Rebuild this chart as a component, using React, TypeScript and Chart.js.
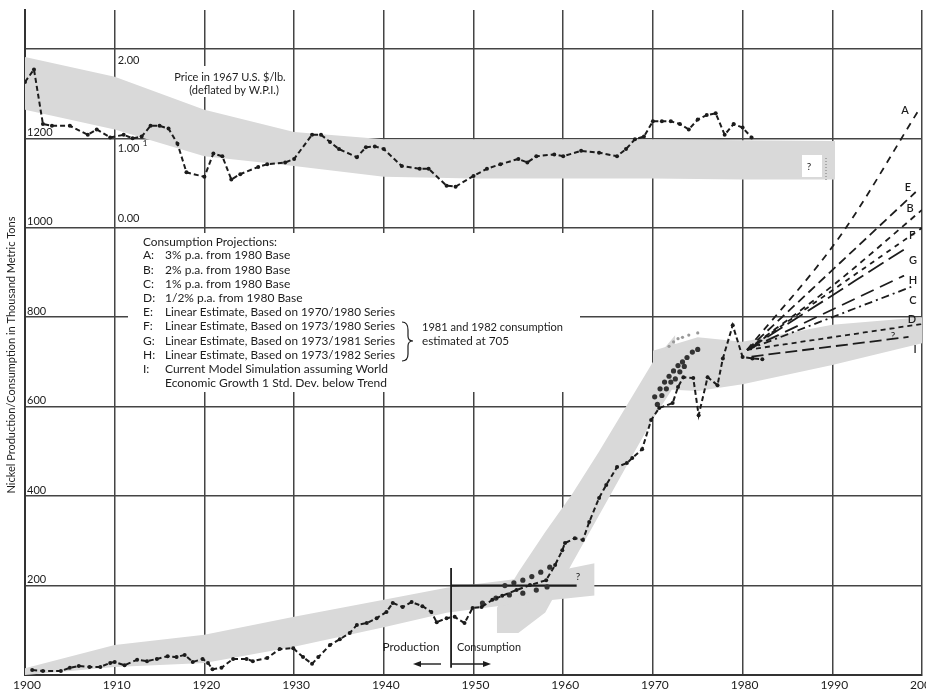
import React, { useEffect, useRef } from "react";
import { Chart, registerables } from "chart.js";
Chart.register(...registerables);

// ---------------- DATA ----------------
const xTickLabels = ["1900", "1910", "1920", "1930", "1940", "1950", "1960", "1970", "1980", "1990", "2000"];
const yTickLabels = [200, 400, 600, 800, 1000, 1200];
const priceTickLabels = ["0.00", "1.00", "2.00"];

// Production (to 1947) / consumption (after) in thousand metric tons
const prodYears = [1900.8, 1902, 1904, 1905, 1906, 1907.2, 1908.4, 1909.5, 1910, 1911.1, 1912.5, 1913.6, 1914.7, 1915.9, 1916.9, 1917.8, 1918.7, 1919.8, 1920.4, 1920.9, 1921.9, 1923.2, 1924.7, 1925.4, 1927, 1928.4, 1929.9, 1931, 1932, 1932.7, 1934, 1935.1, 1936.2, 1937, 1938.1, 1939.2, 1940.3, 1941, 1942.1, 1943.1, 1944.3, 1945.3, 1945.9, 1947, 1947.9, 1949, 1949.9, 1950.9, 1952.1, 1953.2, 1954.8, 1956.3, 1958.1, 1959.1, 1959.9, 1960.2, 1961.3, 1962.2, 1962.9, 1964, 1964.8, 1966, 1967.1, 1967.7, 1968.8, 1969.8, 1970.7, 1972.2, 1972.8, 1973.4, 1974.5, 1975.1, 1976.1, 1977.2, 1977.8, 1978.9, 1980, 1981.1, 1982.2];
const prodValues = [11, 9, 9, 16, 20, 18, 18, 27, 29, 22, 34, 31, 36, 42, 40, 45, 29, 36, 27, 13, 16, 36, 36, 31, 38, 58, 60, 40, 25, 40, 67, 80, 94, 112, 116, 127, 141, 161, 152, 163, 154, 141, 118, 127, 130, 116, 150, 152, 168, 177, 190, 201, 212, 246, 279, 295, 306, 302, 342, 396, 425, 465, 474, 485, 505, 570, 597, 608, 644, 666, 664, 581, 666, 648, 708, 782, 711, 708, 706];

// Price in 1967 U.S. $/lb
const priceYears = [1900, 1901, 1902, 1903, 1905, 1907, 1908, 1909.5, 1911, 1912, 1913, 1914, 1915, 1916, 1917, 1918, 1920, 1921, 1922, 1923, 1924, 1926, 1927, 1929, 1930, 1932, 1933, 1934, 1935, 1937, 1938, 1939, 1940, 1942, 1944, 1945, 1947, 1948, 1950, 1951.5, 1953, 1955, 1956, 1957, 1959, 1960, 1962, 1964, 1966, 1967, 1968, 1969, 1970, 1971, 1972, 1973, 1974, 1975, 1976, 1977, 1978, 1979, 1980, 1981];
const priceValues = [1.63, 1.77, 1.16, 1.14, 1.14, 1.04, 1.1, 1.01, 1.04, 1.0, 1.02, 1.14, 1.14, 1.11, 0.94, 0.62, 0.57, 0.83, 0.8, 0.54, 0.6, 0.68, 0.71, 0.73, 0.77, 1.04, 1.04, 0.96, 0.88, 0.79, 0.9, 0.91, 0.88, 0.69, 0.66, 0.66, 0.47, 0.46, 0.58, 0.66, 0.71, 0.77, 0.73, 0.8, 0.82, 0.8, 0.86, 0.84, 0.8, 0.88, 0.99, 1.02, 1.19, 1.19, 1.19, 1.16, 1.1, 1.21, 1.26, 1.28, 1.04, 1.16, 1.12, 1.01];

// Consumption estimates (scattered dots)
const cloud50Years = [1951, 1952.5, 1954, 1955.5, 1957, 1958.2, 1953.5, 1954.5, 1955.5, 1956.5, 1957.5, 1958.5];
const cloud50Values = [161, 172, 179, 183, 190, 197, 200, 206, 212, 220, 230, 241];
const cloud70Years = [1970.2, 1970.8, 1971.3, 1971.8, 1972.3, 1972.8, 1973.3, 1973.8, 1974.4, 1975, 1970.5, 1971, 1971.5, 1972, 1972.5, 1973, 1973.5];
const cloud70Values = [622, 640, 655, 668, 680, 692, 700, 710, 722, 728, 605, 625, 640, 655, 662, 678, 690];
const cloud70LightYears = [1971.8, 1972.3, 1972.8, 1973.3, 1974, 1975];
const cloud70LightValues = [735, 745, 752, 755, 760, 765];

// Projections A..I (start 1980 base, end near 2000)
const projNames = ["A", "E", "B", "F", "G", "H", "C", "D", "I"];
const projYears = [
  [1980.5, 1991, 1999.6],
  [1980.5, 1999.3],
  [1980.5, 1990, 2000],
  [1980.5, 2000],
  [1980.5, 1998.5],
  [1980.5, 1998],
  [1980.5, 1998.8],
  [1980.5, 2000],
  [1981, 1998.5],
];
const projValues = [
  [727, 985, 1262],
  [727, 1080],
  [727, 870, 1040],
  [727, 1000],
  [727, 958],
  [727, 893],
  [727, 868],
  [727, 785],
  [712, 756],
];
const projDash = [[7, 6], [9, 5], [6, 5], [5, 5], [18, 6], [14, 7], [8, 4, 2, 4], [5, 4], [12, 5]];

// Shaded trend bands
const priceBandYears = [1900, 1910, 1920, 1930, 1940, 1950, 1960, 1970, 1980, 1990.3];
const priceBandUpper = [1.91, 1.69, 1.32, 1.07, 0.99, 0.99, 0.99, 0.99, 0.98, 0.97];
const priceBandLower = [1.32, 1.1, 0.8, 0.69, 0.57, 0.55, 0.55, 0.55, 0.54, 0.54];
const band1Years = [1900, 1910, 1920, 1930, 1940, 1947, 1955, 1963.5];
const band1Upper = [15, 67, 90, 130, 168, 195, 215, 250];
const band1Lower = [0, 18, 27, 63, 107, 139, 160, 178];
const band2Years = [1952.6, 1955, 1958, 1961, 1964, 1967, 1970, 1972.5];
const band2Upper = [150, 230, 320, 405, 500, 600, 700, 760];
const band2Lower = [94, 94, 140, 250, 357, 465, 572, 650];
const band3Years = [1970, 1975, 1980, 1990, 2000];
const band3Upper = [725, 755, 745, 783, 800];
const band3Lower = [640, 635, 650, 693, 742];

const legendLines = [
  ["A:", "3% p.a. from 1980 Base"],
  ["B:", "2% p.a. from 1980 Base"],
  ["C:", "1% p.a. from 1980 Base"],
  ["D:", "1/2% p.a. from 1980 Base"],
  ["E:", "Linear Estimate, Based on 1970/1980 Series"],
  ["F:", "Linear Estimate, Based on 1973/1980 Series"],
  ["G:", "Linear Estimate, Based on 1973/1981 Series"],
  ["H:", "Linear Estimate, Based on 1973/1982 Series"],
  ["I:", "Current Model Simulation assuming World"],
  ["", "Economic Growth 1 Std. Dev. below Trend"],
];

// ---------------- HELPERS ----------------
const pts = (xs: number[], ys: number[]) => xs.map((x, i) => ({ x, y: ys[i] }));
const FONT = 'Lato, "Open Sans", sans-serif';
const INK = "#1c1c1c";
const BAND = "#d9d9d9";

export default function App() {
  const ref = useRef<HTMLCanvasElement | null>(null);

  useEffect(() => {
    document.body.style.margin = "0";
    const canvas = ref.current!;
    const datasets: any[] = [];

    datasets.push({
      data: pts(prodYears, prodValues), yAxisID: "y", borderColor: INK, borderWidth: 2,
      borderDash: [5, 3], pointRadius: 2, pointBackgroundColor: INK, pointBorderWidth: 0, tension: 0,
    });
    datasets.push({
      data: pts(priceYears, priceValues), yAxisID: "yp", borderColor: INK, borderWidth: 2,
      borderDash: [5, 3], pointRadius: 2, pointBackgroundColor: INK, pointBorderWidth: 0,
    });
    projNames.forEach((n, i) => {
      datasets.push({
        data: pts(projYears[i], projValues[i]), yAxisID: "y", borderColor: INK, borderWidth: 1.8,
        borderDash: projDash[i], pointRadius: 0, cubicInterpolationMode: "monotone", tension: 0.3,
      });
    });
    datasets.push({ data: pts(cloud50Years, cloud50Values), yAxisID: "y", showLine: false, pointRadius: 2.6, pointBackgroundColor: "#333", pointBorderWidth: 0 });
    datasets.push({ data: pts(cloud70Years, cloud70Values), yAxisID: "y", showLine: false, pointRadius: 2.6, pointBackgroundColor: "#333", pointBorderWidth: 0 });
    datasets.push({ data: pts(cloud70LightYears, cloud70LightValues), yAxisID: "y", showLine: false, pointRadius: 1.6, pointBackgroundColor: "#999", pointBorderWidth: 0 });
    // divider between production and consumption, and 200 segment
    datasets.push({ data: [{ x: 1947.5, y: 16 }, { x: 1947.5, y: 239 }], yAxisID: "y", borderColor: INK, borderWidth: 1.8, pointRadius: 0 });
    datasets.push({ data: [{ x: 1947.5, y: 200 }, { x: 1961.5, y: 200 }], yAxisID: "y", borderColor: INK, borderWidth: 2.2, pointRadius: 0 });

    const band = (xs: number[], up: number[], lo: number[], axis: string) => {
      datasets.push({ data: pts(xs, up), yAxisID: axis, borderWidth: 0, pointRadius: 0, fill: false, borderColor: "rgba(0,0,0,0)" });
      datasets.push({ data: pts(xs, lo), yAxisID: axis, borderWidth: 0, pointRadius: 0, fill: "-1", backgroundColor: BAND, borderColor: "rgba(0,0,0,0)" });
    };
    band(priceBandYears, priceBandUpper, priceBandLower, "yp");
    band(band1Years, band1Upper, band1Lower, "y");
    band(band2Years, band2Upper, band2Lower, "y");
    band(band3Years, band3Upper, band3Lower, "y");

    const overlay = {
      id: "overlay",
      beforeDatasetsDraw(chart: any) {
        const ctx = chart.ctx;
        ctx.save();
        ctx.fillStyle = "#fff";
        ctx.fillRect(128, 233, 452, 159);
        ctx.fillRect(168, 66, 122, 31);
        ctx.restore();
      },
      afterDatasetsDraw(chart: any) {
        const ctx = chart.ctx;
        const xs = chart.scales.x, ys = chart.scales.y, yp = chart.scales.yp;
        ctx.save();
        ctx.fillStyle = INK;
        ctx.strokeStyle = INK;
        // x tick labels
        ctx.font = `12px ${FONT}`;
        ctx.textAlign = "center";
        ctx.textBaseline = "middle";
        xTickLabels.forEach((t) => ctx.fillText(t, xs.getPixelForValue(Number(t)) + 2, 685));
        // y tick labels
        ctx.font = `11px ${FONT}`;
        ctx.textAlign = "left";
        ctx.textBaseline = "bottom";
        yTickLabels.forEach((v) => ctx.fillText(String(v), xs.left + 2, ys.getPixelForValue(v) - 0.5));
        // price labels
        const px = xs.getPixelForValue(1910) + 3;
        ctx.textBaseline = "middle";
        ctx.fillText(priceTickLabels[2], px, yp.getPixelForValue(2) + 12);
        ctx.fillText(priceTickLabels[1], px, yp.getPixelForValue(1) + 10);
        ctx.font = `8px ${FONT}`;
        ctx.fillText("1", px + 25, yp.getPixelForValue(1) + 5);
        ctx.font = `11px ${FONT}`;
        ctx.fillText(priceTickLabels[0], px, yp.getPixelForValue(0) - 9);
        // price title
        ctx.textAlign = "center";
        ctx.fillText("Price in 1967 U.S. $/lb.", 230, 77, 116);
        ctx.fillText("(deflated by W.P.I.)", 234, 90, 100);
        // legend
        ctx.textAlign = "left";
        ctx.font = `12px ${FONT}`;
        ctx.fillText("Consumption Projections:", 143, 242, 134);
        legendLines.forEach((l, i) => {
          const y = 255.5 + i * 14.2;
          if (l[0]) ctx.fillText(l[0], 143, y);
          ctx.fillText(l[1], 165, y, i >= 4 ? 230 : 140);
        });
        ctx.fillText("1981 and 1982 consumption", 422, 327, 141);
        ctx.fillText("estimated at 705", 422, 341, 87);
        // brace
        ctx.lineWidth = 1.2;
        ctx.beginPath();
        ctx.moveTo(402, 322);
        ctx.quadraticCurveTo(408, 322, 408, 330);
        ctx.lineTo(408, 336);
        ctx.quadraticCurveTo(408, 341, 413, 341);
        ctx.quadraticCurveTo(408, 341, 408, 346);
        ctx.lineTo(408, 354);
        ctx.quadraticCurveTo(408, 361, 402, 361);
        ctx.stroke();
        // projection letters
        ctx.font = `600 11px ${FONT}`;
        ctx.textAlign = "center";
        const letters: [string, number, number][] = [["A", 905, 110], ["E", 908, 187], ["B", 910, 208], ["F", 912, 235], ["G", 913, 260], ["H", 913, 280], ["C", 913, 300], ["D", 912, 319], ["I", 915, 349]];
        letters.forEach(([t, x, y]) => ctx.fillText(t, x, y));
        // question marks
        ctx.fillStyle = "#fff";
        ctx.fillRect(802, 155, 20, 22);
        ctx.fillStyle = INK;
        ctx.font = `10px ${FONT}`;
        ctx.fillText("?", 809, 167);
        ctx.fillText("?", 578, 577);
        ctx.fillText("?", 893, 336);
        ctx.setLineDash([1, 2]);
        ctx.lineWidth = 1;
        ctx.strokeStyle = "#777";
        ctx.beginPath(); ctx.moveTo(826, 158); ctx.lineTo(826, 181); ctx.stroke();
        ctx.setLineDash([]);
        ctx.strokeStyle = INK;
        // production / consumption
        ctx.font = `12px ${FONT}`;
        ctx.fillText("Production", 411, 647, 57);
        ctx.fillText("Consumption", 489, 647, 64);
        const ay = 664;
        ctx.lineWidth = 1.4;
        ctx.beginPath(); ctx.moveTo(441, ay); ctx.lineTo(418, ay); ctx.stroke();
        ctx.beginPath(); ctx.moveTo(413, ay); ctx.lineTo(421, ay - 3); ctx.lineTo(421, ay + 3); ctx.closePath(); ctx.fill();
        ctx.beginPath(); ctx.moveTo(452, ay); ctx.lineTo(486, ay); ctx.stroke();
        ctx.beginPath(); ctx.moveTo(491, ay); ctx.lineTo(483, ay - 3); ctx.lineTo(483, ay + 3); ctx.closePath(); ctx.fill();
        // y title
        ctx.save();
        ctx.translate(11, 355);
        ctx.rotate(-Math.PI / 2);
        ctx.font = `11px ${FONT}`;
        ctx.textAlign = "center";
        ctx.textBaseline = "middle";
        ctx.fillText("Nickel Production/Consumption in Thousand Metric Tons", 0, 0, 316);
        ctx.restore();
        ctx.restore();
      },
    };

    const chart = new Chart(canvas, {
      type: "line",
      data: { datasets },
      options: {
        animation: false,
        responsive: false,
        devicePixelRatio: 1,
        layout: { padding: { left: 25, right: 3, top: 10, bottom: 16 } },
        plugins: { legend: { display: false }, tooltip: { enabled: false } },
        scales: {
          x: {
            type: "linear", min: 1900, max: 2000,
            ticks: { display: false, stepSize: 10 },
            grid: { color: "#444", lineWidth: 1.5, drawTicks: false },
            border: { display: true, color: "#333", width: 2 },
          },
          y: {
            type: "linear", min: 0, max: 1487,
            ticks: { display: false, stepSize: 200 },
            afterBuildTicks: (s: any) => { s.ticks = s.ticks.filter((t: any) => t.value % 200 === 0); },
            grid: { color: "#444", lineWidth: 1.5, drawTicks: false },
            border: { display: true, color: "#333", width: 2 },
          },
          yp: { type: "linear", display: false, min: -5, max: 2.435 },
        },
      },
      plugins: [overlay],
    } as any);
    return () => chart.destroy();
  }, []);

  return <canvas ref={ref} width={926} height={691} style={{ display: "block", width: 926, height: 691 }} />;
}
